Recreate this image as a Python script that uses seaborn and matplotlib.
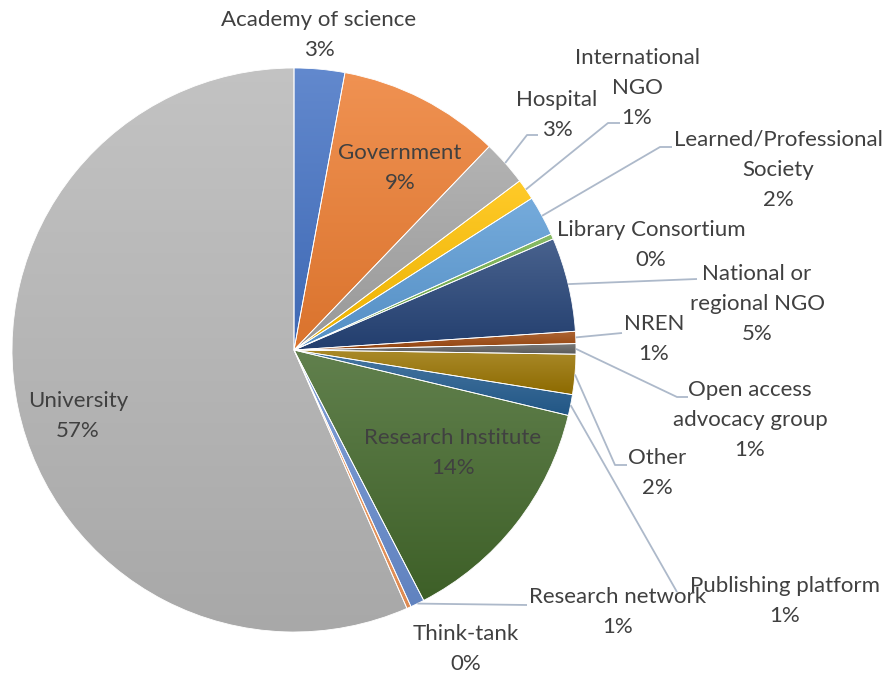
import numpy as np
import matplotlib
matplotlib.use("Agg")
import matplotlib.pyplot as plt
import seaborn as sns
from matplotlib.colors import to_rgb

# ---- data ----
categories = ["Academy of science", "Government", "Hospital", "International NGO",
              "Learned/Professional Society", "Library Consortium",
              "National or regional NGO", "NREN", "Open access advocacy group",
              "Other", "Publishing platform", "Research Institute",
              "Research network", "Think-tank", "University"]
label_text = ["Academy of science", "Government", "Hospital", "International\nNGO",
              "Learned/Professional\nSociety", "Library Consortium",
              "National or\nregional NGO", "NREN", "Open access\nadvocacy group",
              "Other", "Publishing platform", "Research Institute",
              "Research network", "Think-tank", "University"]
shares = [2.9, 9.3, 2.6, 1.2, 2.3, 0.3, 5.4, 0.7, 0.6, 2.3, 1.2, 13.7, 0.8, 0.25, 56.7]
colors = ["#4472C4", "#ED7D31", "#A5A5A5", "#FFC000", "#5B9BD5", "#70AD47",
          "#264478", "#9E480E", "#636363", "#997300", "#255E91", "#43682B",
          "#698ED0", "#F1975A", "#B7B7B7"]

# ---- layout (pixel positions of labels / leader elbows) ----
W, H = 886, 675
CX, CY, R = 294, 350, 282
LINE = 30  # px between text lines
label_pos = {
    "Academy of science": (319, 35),
    "Government": (400, 168),
    "Hospital": (557, 115),
    "International NGO": (637, 88),
    "Learned/Professional Society": (778, 170),
    "Library Consortium": (651, 245),
    "National or regional NGO": (757, 304),
    "NREN": (654, 339),
    "Open access advocacy group": (750, 420),
    "Other": (657, 473),
    "Publishing platform": (785, 601),
    "Research Institute": (453, 453),
    "Research network": (618, 612),
    "Think-tank": (466, 649),
    "University": (78, 416),
}
leaders = {
    "Hospital": [(527, 135), (538, 135)],
    "International NGO": [(608, 123), (620, 123)],
    "Learned/Professional Society": [(660, 147), (672, 147)],
    "National or regional NGO": [(697, 279)],
    "NREN": [(622, 333)],
    "Open access advocacy group": [(677, 397), (688, 397)],
    "Other": [(615, 465), (627, 465)],
    "Publishing platform": [(677, 592)],
    "Research network": [(527, 605)],
}

def px(x, y):
    return ((x - CX) / R, (CY - y) / R)

sns.set_theme(style="white")
plt.rcParams['font.family'] = ['Lato', 'DejaVu Sans']

fig = plt.figure(figsize=(W / 100, H / 100), dpi=100)
ax = fig.add_axes([0, 0, 1, 1])

wedges, _ = ax.pie(shares, colors=colors, startangle=90, counterclock=False,
                   radius=1, wedgeprops=dict(edgecolor="white", linewidth=0.6))
ax.set_xlim(-CX / R, (W - CX) / R)
ax.set_ylim(-(H - CY) / R, CY / R)
ax.set_aspect("equal")
ax.axis("off")

# vertical shading in each wedge (Excel style)
def shade(c, f):
    c = np.array(to_rgb(c))
    if f > 0:
        return c + (1 - c) * f
    return c * (1 + f)

for w, c in zip(wedges, colors):
    verts = w.get_path().vertices
    x0, y0 = verts.min(axis=0)
    x1, y1 = verts.max(axis=0)
    top = shade(c, 0.16)
    bot = shade(c, -0.08)
    t = np.linspace(0, 1, 64)[:, None]
    grad = (top[None, :] * (1 - t) + bot[None, :] * t)[:, None, :]
    im = ax.imshow(grad, extent=(x0, x1, y0, y1), origin="upper",
                   aspect="auto", zorder=w.get_zorder() + 0.1, interpolation="bilinear")
    im.set_clip_path(w)
    w.set_facecolor("none")
    w.set_zorder(w.get_zorder() + 0.2)

ax.set_xlim(-CX / R, (W - CX) / R)
ax.set_ylim(-(H - CY) / R, CY / R)

total = sum(shares)
cum = 0.0
for cat, txt, v in zip(categories, label_text, shares):
    mid = (cum + v / 2) / total * 2 * np.pi
    cum += v
    pct = int(round(v / total * 100))
    lines = txt.split("\n") + [f"{pct}%"]
    cx, cy = label_pos[cat]
    n = len(lines)
    for i, ln in enumerate(lines):
        ly = cy + (i - (n - 1) / 2) * LINE
        ax.text(*px(cx, ly), ln, ha="center", va="center", fontsize=16,
                color="#404040", zorder=10)
    if cat in leaders:
        sx, sy = np.sin(mid), np.cos(mid)
        pts = [(sx, sy)] + [px(*p) for p in leaders[cat]]
        xs, ys = zip(*pts)
        ax.plot(xs, ys, color="#ADB9CA", lw=1.3, zorder=5, solid_capstyle="butt")

fig.savefig("out.png", dpi=100, facecolor="white")
